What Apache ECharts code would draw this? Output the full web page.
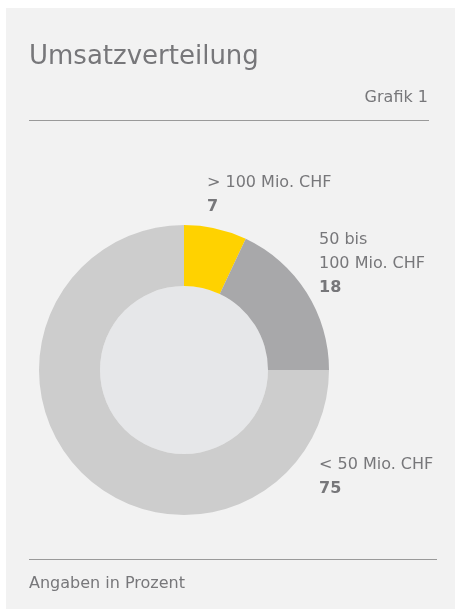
<!DOCTYPE html>
<html>
<head>
<meta charset="utf-8">
<script src="https://cdn.jsdelivr.net/npm/echarts@6/dist/echarts.min.js"></script>
<style>
 html, body { margin: 0; padding: 0; background: #fff; }
 #chart { width: 455px; height: 609px; }
</style>
</head>
<body>
<div id="chart"></div>
<script type="text/javascript">
	// Umsatzverteilung (Angaben in Prozent)
	var categories = ['> 100 Mio. CHF', '50 bis\n100 Mio. CHF', '< 50 Mio. CHF'];
	var values = [7, 18, 75];
	var colors = ['#ffd200', '#a8a8aa', '#cdcdcd'];

	// label anchor (left / top) per slice
	var labelPos = [[207, 171], [319, 228], [319, 453]];

	var font = '"DejaVu Sans", sans-serif';
	var textColor = '#77777a';

	var data = categories.map(function (c, i) {
		return { name: c, value: values[i], itemStyle: { color: colors[i] } };
	});

	var options = {
		backgroundColor: '#ffffff',
		animation: false,
		graphic: [
			{ type: 'rect', z: -10, shape: { x: 6, y: 8, width: 449, height: 601 }, style: { fill: '#f2f2f2' } },
			{ type: 'text', left: 29, top: 44, style: { text: 'Umsatzverteilung', font: '26px ' + font, fill: textColor } },
			{ type: 'text', right: 27, top: 90, style: { text: 'Grafik 1', font: '16px ' + font, fill: textColor } },
			{ type: 'line', shape: { x1: 29, y1: 120.5, x2: 429, y2: 120.5 }, style: { stroke: '#9a9a9a', lineWidth: 1 } },
			{ type: 'circle', z: 1, shape: { cx: 184, cy: 370, r: 84 }, style: { fill: '#e6e7e9' } },
			{ type: 'line', shape: { x1: 29, y1: 559.5, x2: 437, y2: 559.5 }, style: { stroke: '#9a9a9a', lineWidth: 1 } },
			{ type: 'text', left: 29, top: 576, style: { text: 'Angaben in Prozent', font: '16px ' + font, fill: textColor } }
		],
		series: [{
			type: 'pie',
			center: [184, 370],
			radius: [84, 145],
			startAngle: 90,
			clockwise: true,
			silent: true,
			itemStyle: { borderWidth: 0 },
			labelLine: { show: false },
			label: {
				show: true,
				position: 'outside',
				overflow: 'none',
				bleedMargin: 0,
				formatter: function (p) { return '{n|' + p.name.replace('\n', '}\n{n|') + '}\n{v|' + p.value + '}'; },
				rich: {
					n: { fontSize: 16, fontFamily: font, color: textColor, lineHeight: 24 },
					v: { fontSize: 16, fontFamily: font, color: textColor, fontWeight: 'bold', lineHeight: 24 }
				}
			},
			labelLayout: function (p) {
				var pos = labelPos[p.dataIndex];
				return { x: pos[0], y: pos[1], align: 'left', verticalAlign: 'top', hideOverlap: false };
			},
			data: data
		}]
	};

	var myChart = echarts.init(document.getElementById('chart'));
	myChart.setOption(options);
</script>
</body>
</html>
